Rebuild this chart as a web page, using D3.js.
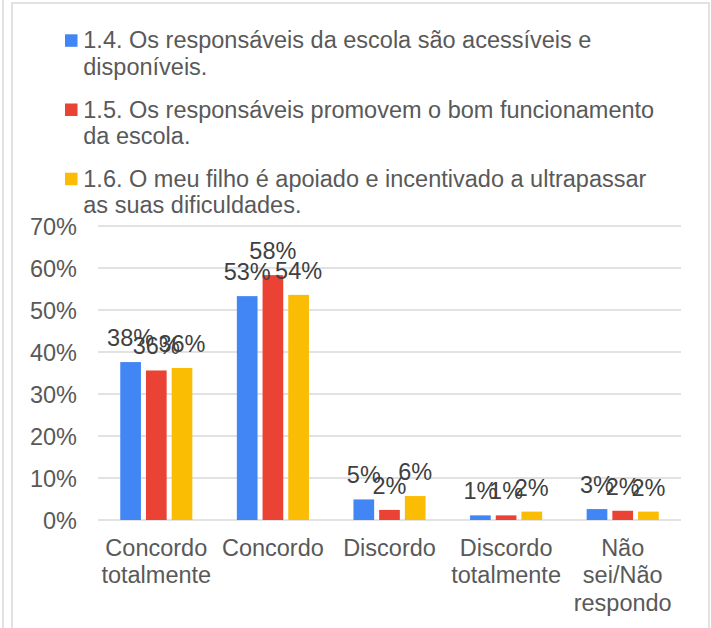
<!DOCTYPE html>
<html>
<head>
<meta charset="utf-8">
<script src="https://cdn.jsdelivr.net/npm/d3@7"></script>
<style>
  html, body { margin: 0; padding: 0; background: #fff; }
  svg { display: block; }
  text { font-family: "Liberation Sans", Arial, sans-serif; }
</style>
</head>
<body>
<svg id="chart" width="711" height="628"></svg>
<script>
// ---- data ----
const categories = ["Concordo totalmente", "Concordo", "Discordo", "Discordo totalmente", "Não sei/Não respondo"];
const seriesNames = [
  "1.4. Os responsáveis da escola são acessíveis e disponíveis.",
  "1.5. Os responsáveis promovem o bom funcionamento da escola.",
  "1.6. O meu filho é apoiado e incentivado a ultrapassar as suas dificuldades."
];
const series14 = [37.6, 53.3, 4.9, 1.1, 2.6];
const series15 = [35.6, 58.3, 2.4, 1.1, 2.2];
const series16 = [36.2, 53.6, 5.7, 2.0, 2.0];
const yTicks = [0, 10, 20, 30, 40, 50, 60, 70];
const colors = ["#4285F4", "#EA4335", "#FBBC04"];

const seriesValues = [series14, series15, series16];

const svg = d3.select("#chart");
const FONT = 23.5;

// frame
svg.append("line").attr("x1", 3).attr("x2", 3).attr("y1", 0).attr("y2", 628)
  .attr("stroke", "#d9d9d9").attr("stroke-width", 1.5);
svg.append("rect").attr("x", 12).attr("y", 3).attr("width", 697).attr("height", 640)
  .attr("fill", "none").attr("stroke", "#d9d9d9").attr("stroke-width", 1.5);

// scales
const x0 = d3.scaleBand().domain(categories).range([98, 681]).paddingInner(0).paddingOuter(0);
const x1 = d3.scaleBand().domain(d3.range(seriesNames.length)).range([0, x0.bandwidth()])
  .paddingInner(0.195).paddingOuter(0.866);
const y = d3.scaleLinear().domain([0, 70]).range([520, 226]);

// gridlines
svg.append("g").selectAll("line").data(yTicks).join("line")
  .attr("x1", 98).attr("x2", 681)
  .attr("y1", d => y(d)).attr("y2", d => y(d))
  .attr("stroke", "#d9d9d9").attr("stroke-width", 1.5);

// y axis labels
const yAxis = d3.axisLeft(y).tickValues(yTicks).tickFormat(d => d + "%").tickSize(0).tickPadding(0);
const gy = svg.append("g").attr("transform", "translate(77,0)").call(yAxis);
gy.select(".domain").remove();
gy.selectAll("text").attr("font-size", FONT).attr("fill", "#595959")
  .attr("font-family", "'Liberation Sans', Arial, sans-serif").attr("dy", "0.36em");

// bars
const groups = svg.append("g").selectAll("g").data(categories).join("g")
  .attr("transform", d => `translate(${x0(d)},0)`);

groups.each(function(cat, ci) {
  const g = d3.select(this);
  const vals = seriesValues.map((s, si) => ({ si, v: s[ci] }));
  g.selectAll("rect").data(vals).join("rect")
    .attr("x", d => x1(d.si))
    .attr("width", x1.bandwidth())
    .attr("y", d => y(d.v))
    .attr("height", d => y(0) - y(d.v))
    .attr("fill", d => colors[d.si]);
  g.selectAll("text").data(vals).join("text")
    .attr("x", d => x1(d.si) + x1.bandwidth() / 2)
    .attr("y", d => y(d.v) - 16)
    .attr("text-anchor", "middle")
    .attr("font-size", FONT)
    .attr("fill", "#404040")
    .text(d => Math.round(d.v) + "%");
});

// word wrap helper
function wrapWords(text, maxW, measure) {
  const words = text.split(" ");
  const lines = [];
  let cur = "";
  words.forEach(w => {
    const t = cur ? cur + " " + w : w;
    if (measure(t) > maxW && cur) { lines.push(cur); cur = w; }
    else cur = t;
  });
  if (cur) lines.push(cur);
  return lines;
}
const meas = svg.append("text").attr("font-size", FONT).attr("visibility", "hidden");
const measure = s => { meas.text(s); return meas.node().getComputedTextLength(); };

// x category labels
categories.forEach(cat => {
  const lines = wrapWords(cat, x0.bandwidth(), measure);
  const t = svg.append("text").attr("text-anchor", "middle").attr("font-size", FONT).attr("fill", "#595959");
  lines.forEach((ln, i) => {
    t.append("tspan").attr("x", x0(cat) + x0.bandwidth() / 2).attr("y", 556 + i * 27.3).text(ln);
  });
});

// legend
let ly = 48.3;
seriesNames.forEach((name, i) => {
  const lines = wrapWords(name, 590, measure);
  svg.append("rect").attr("x", 65).attr("y", ly - 14).attr("width", 12.5).attr("height", 12.5).attr("fill", colors[i]);
  const t = svg.append("text").attr("font-size", FONT).attr("fill", "#595959");
  lines.forEach((ln, k) => {
    t.append("tspan").attr("x", 83.3).attr("y", ly + k * 26.7).text(ln);
  });
  ly += lines.length * 26.7 + 15.8;
});
meas.remove();
</script>
</body>
</html>
